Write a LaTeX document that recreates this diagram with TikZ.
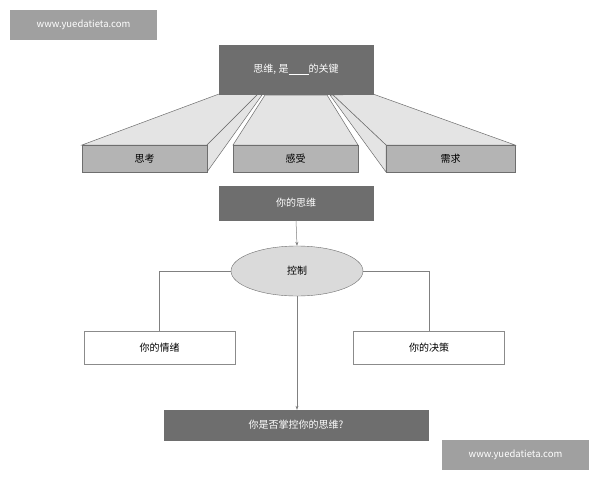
\documentclass[tikz,border=0pt]{standalone}
\usepackage{fontspec}
\setmainfont{Noto Sans CJK SC}
\usetikzlibrary{shapes.geometric,arrows.meta}
\definecolor{dk}{HTML}{6E6E6E}
\definecolor{md}{HTML}{B4B4B4}
\definecolor{lt}{HTML}{E4E4E4}
\definecolor{wm}{HTML}{A0A0A0}
\tikzset{
 darkbox/.style={draw=dk,fill=dk,text=white,font=\fontsize{10}{12}\selectfont},
 midbox/.style={draw=dk,fill=md,font=\fontsize{10}{12}\selectfont},
 whitebox/.style={draw=dk!80,fill=white,font=\fontsize{10}{12}\selectfont},
 face/.style={draw=dk,fill=lt,line width=0.5pt},
 conn/.style={draw=gray,line width=0.5pt},
 arr/.style={conn,-{Stealth[length=4pt,width=3pt]}},
 wmark/.style={fill=wm,text=white,font=\fontsize{9.5}{11}\selectfont}
}
\begin{document}
\begin{tikzpicture}[x=1pt,y=-1pt]
\useasboundingbox (0,0) rectangle (600,480);
\fill[white] (0,0) rectangle (600,480);
% prisms
\filldraw[face] (82,145) -- (207,145) -- (258,94) -- (219,94) -- cycle;
\filldraw[face] (207,145) -- (207,172) -- (262,95) -- (258,94) -- cycle;
\filldraw[face] (233,145) -- (358,145) -- (327,95) -- (265,95) -- cycle;
\filldraw[face] (386,145) -- (515,145) -- (373,94) -- (333,95) -- cycle;
\filldraw[face] (386,145) -- (386,172) -- (330,95) -- (333,95) -- cycle;
\node[darkbox,minimum width=154,minimum height=49,inner sep=0] (top) at (296,69.5) {思维, 是\underline{\hspace{20pt}}的关键};
\node[midbox,minimum width=125,minimum height=27,inner sep=0] (a) at (144.5,158.5) {思考};
\node[midbox,minimum width=125,minimum height=27,inner sep=0] (b) at (295.5,158.5) {感受};
\node[midbox,minimum width=129,minimum height=27,inner sep=0] (c) at (450.5,158.5) {需求};
% lower
\node[darkbox,minimum width=154,minimum height=34,inner sep=0] (you) at (296,203) {你的思维};
\node[ellipse,draw=dk,fill=lt!80!md,minimum width=132,minimum height=50,inner sep=0,font=\fontsize{10}{12}\selectfont] (ctl) at (297,271) {控制};
\node[whitebox,minimum width=151,minimum height=33,inner sep=0] (emo) at (159.5,347.5) {你的情绪};
\node[whitebox,minimum width=151,minimum height=33,inner sep=0] (dec) at (429,347.5) {你的决策};
\node[darkbox,minimum width=264,minimum height=30,inner sep=0] (q) at (296,425) {你是否掌控你的思维?};
\draw[arr] (you.south) -- (ctl.north);
\draw[arr] (ctl.south) -- (ctl.south |- q.north);
\draw[conn] (ctl.west) -| (emo.north);
\draw[conn] (ctl.east) -| (dec.north);
% watermarks
\node[wmark,minimum width=147,minimum height=30,inner sep=0] (w1) at (83.5,25) {www.yuedatieta.com};
\node[wmark,minimum width=147,minimum height=30,inner sep=0] (w2) at (515.5,455) {www.yuedatieta.com};
\end{tikzpicture}
\end{document}
